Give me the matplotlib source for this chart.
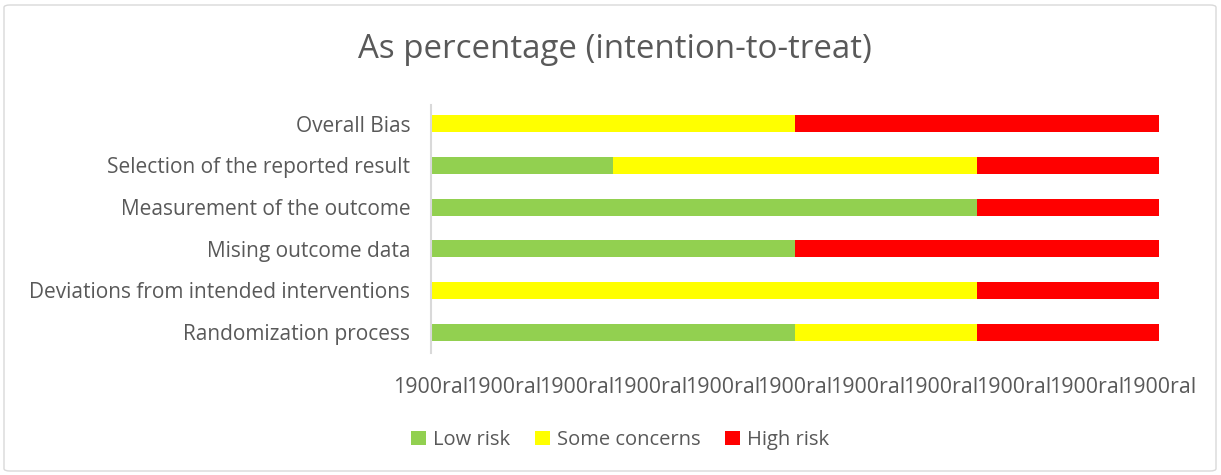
import matplotlib
matplotlib.use("Agg")
import matplotlib.pyplot as plt
from matplotlib.patches import FancyBboxPatch

categories = ["Randomization process", "Deviations from intended interventions",
              "Mising outcome data", "Measurement of the outcome",
              "Selection of the reported result", "Overall Bias"]
low_risk = [50, 0, 50, 75, 25, 0]
some_concerns = [25, 75, 0, 0, 50, 50]
high_risk = [25, 25, 50, 25, 25, 50]
x_ticks = [0, 10, 20, 30, 40, 50, 60, 70, 80, 90, 100]
x_tick_labels = ["1900ral"] * 11
series_names = ["Low risk", "Some concerns", "High risk"]
colors = ["#92D050", "#FFFF00", "#FF0000"]

plt.rcParams['font.family'] = ['Open Sans', 'DejaVu Sans']
TXT = "#595959"

fig = plt.figure(figsize=(12.21, 4.75), dpi=100)
W, H = 1221, 475
ax = fig.add_axes([431 / W, 1 - 353 / H, (1159 - 431) / W, (353 - 105) / H])

y = list(range(len(categories)))
left = [0] * len(categories)
for vals, name, c in zip([low_risk, some_concerns, high_risk], series_names, colors):
    ax.barh(y, vals, left=left, height=0.41, color=c, label=name)
    left = [a + b for a, b in zip(left, vals)]

ax.set_xlim(0, 100)
ax.set_ylim(-0.5, 5.45)
ax.set_yticks(y)
ax.set_yticklabels(categories, fontsize=15, color=TXT)
ax.set_xticks(x_ticks)
ax.set_xticklabels(x_tick_labels, fontsize=15.4, color=TXT)
ax.tick_params(axis='both', length=0)
ax.tick_params(axis='y', pad=15)
ax.tick_params(axis='x', pad=17)
for s in ["top", "right", "bottom"]:
    ax.spines[s].set_visible(False)
ax.spines["left"].set_color("#D9D9D9")
ax.spines["left"].set_linewidth(1.5)

fig.text(615 / W, 1 - 49 / H, "As percentage (intention-to-treat)", ha="center", va="center",
         fontsize=23.8, color=TXT)

handles, labels = ax.get_legend_handles_labels()
leg = fig.legend(handles, labels, loc="center", bbox_to_anchor=(620 / W, 1 - 440 / H), ncol=3,
                 frameon=False, fontsize=14.5, handlelength=0.75, handleheight=0.75,
                 columnspacing=1.2, handletextpad=0.35, labelcolor=TXT)

border = FancyBboxPatch((4 / W, 4 / H), 1 - 9 / W, 1 - 9 / H, boxstyle="round,pad=0,rounding_size=0.005",
                        transform=fig.transFigure, fill=False, edgecolor="#D9D9D9", linewidth=1)
fig.patches.append(border)

fig.savefig("out.png", dpi=100, facecolor="white")
